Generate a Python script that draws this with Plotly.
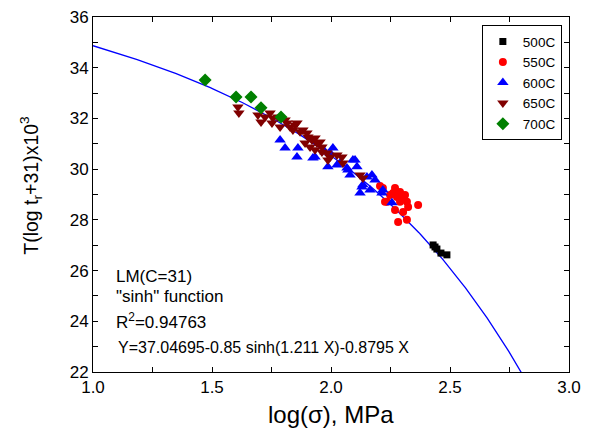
import numpy as np
import plotly.graph_objects as go

# --- data ---
x500 = [2.429, 2.437, 2.445, 2.462, 2.487]
y500 = [27.01, 26.93, 26.85, 26.69, 26.62]

x550 = [2.218, 2.261, 2.227, 2.277, 2.290, 2.319, 2.324, 2.269, 2.303, 2.366,
        2.282, 2.319, 2.290, 2.248, 2.235, 2.269, 2.206, 2.298, 2.311]
y550 = [29.26, 29.06, 28.71, 28.90, 28.71, 28.71, 28.51, 28.39, 28.31, 28.59,
        27.92, 28.00, 29.10, 28.98, 28.71, 29.26, 29.34, 28.86, 28.98]

x600 = [1.786, 1.807, 1.861, 1.857, 1.933, 1.975, 2.008, 1.987, 2.025, 2.067,
        2.092, 2.109, 2.080, 2.134, 2.172, 2.122, 2.164, 2.214, 1.924, 1.996,
        2.038, 2.071, 2.101, 2.185, 2.256, 2.218, 2.130, 2.151]
y600 = [31.15, 30.83, 30.83, 30.48, 30.48, 30.68, 30.83, 30.09, 30.16, 30.05,
        30.36, 30.09, 29.77, 29.38, 29.77, 29.06, 29.18, 29.06, 30.44, 30.64,
        30.24, 29.97, 30.36, 29.57, 28.67, 29.18, 29.30, 29.69]

x650 = [1.609, 1.613, 1.693, 1.706, 1.744, 1.756, 1.777, 1.752, 1.786, 1.815,
        1.828, 1.840, 1.857, 1.870, 1.882, 1.899, 1.903, 1.920, 1.933, 1.941,
        1.954, 1.962, 1.891, 1.912, 1.933, 1.962, 1.983, 1.996, 2.025, 2.046,
        2.050, 1.987, 2.122, 2.134, 1.807, 1.723, 1.849]
y650 = [32.45, 32.21, 32.14, 31.86, 32.21, 32.02, 32.06, 31.82, 31.66, 31.82,
        31.66, 31.54, 31.82, 31.47, 31.54, 31.43, 31.27, 31.15, 31.23, 31.03,
        31.07, 30.87, 31.03, 30.87, 30.76, 30.68, 30.64, 30.48, 30.56, 30.48,
        30.24, 30.36, 29.77, 29.65, 31.94, 32.06, 31.74]

x700 = [1.471, 1.601, 1.664, 1.706, 1.790]
y700 = [33.52, 32.85, 32.85, 32.42, 32.06]

# fit curve coefficients (from the chart's equation)
A0, A1, A2, A3 = 37.04695, 0.85, 1.211, 0.8795
xfit = np.linspace(1.0, 2.82, 300)
yfit = A0 - A1 * np.sinh(A2 * xfit) - A3 * xfit

FONT = "Arial, Liberation Sans, sans-serif"

fig = go.Figure()
fig.add_trace(go.Scatter(x=xfit, y=yfit, mode="lines",
                         line=dict(color="#0000ff", width=1.3),
                         showlegend=False, hoverinfo="skip"))
series = [
    ("500C", x500, y500, "square", "#000000", 7),
    ("550C", x550, y550, "circle", "#ff0000", 8),
    ("600C", x600, y600, "triangle-up", "#0000ff", 10),
    ("650C", x650, y650, "triangle-down", "#800000", 10),
    ("700C", x700, y700, "diamond", "#008000", 10),
]
for name, xs, ys, sym, col, sz in series:
    fig.add_trace(go.Scatter(x=xs, y=ys, mode="markers", name=name,
                             marker=dict(symbol=sym, color=col, size=sz,
                                         line=dict(width=0))))

axis_common = dict(showline=True, linecolor="black", linewidth=1,
                   mirror="allticks", ticks="inside", ticklen=5,
                   tickcolor="black", showgrid=False, zeroline=False,
                   automargin=False, ticklabeloverflow="allow",
                   tickfont=dict(family=FONT, size=17, color="black"))

fig.update_xaxes(range=[1.0, 3.0], dtick=0.5, tickformat=".1f",
                 minor=dict(ticks="inside", dtick=0.25, ticklen=5, tickcolor="black"),
                 **axis_common)
fig.update_yaxes(range=[22, 36], dtick=2,
                 minor=dict(ticks="inside", dtick=1, ticklen=5, tickcolor="black"),
                 **axis_common)

# axis titles
fig.add_annotation(x=0.5, y=-0.121, xref="paper", yref="paper",
                   text="log(σ), MPa", showarrow=False,
                   xanchor="center", yanchor="middle",
                   font=dict(family=FONT, size=24, color="black"))
fig.add_annotation(x=-0.130, y=0.525, xref="paper", yref="paper",
                   text="T(log t<sub>r</sub>+31)x10<sup>3</sup>", showarrow=False,
                   textangle=-90, xanchor="center", yanchor="middle",
                   font=dict(family=FONT, size=19.5, color="black"))

ann_font = dict(family=FONT, size=17, color="black")
fig.add_annotation(x=1.088, y=25.75, xref="x", yref="y", text="LM(C=31)",
                   showarrow=False, xanchor="left", yanchor="middle", font=ann_font)
fig.add_annotation(x=1.088, y=24.98, xref="x", yref="y", text="\"sinh\" function",
                   showarrow=False, xanchor="left", yanchor="middle", font=ann_font)
fig.add_annotation(x=1.088, y=24.02, xref="x", yref="y", text="R<sup>2</sup>=0.94763",
                   showarrow=False, xanchor="left", yanchor="middle", font=ann_font)
fig.add_annotation(x=1.096, y=22.95, xref="x", yref="y",
                   text="Y=37.04695-0.85 sinh(1.211 X)-0.8795 X",
                   showarrow=False, xanchor="left", yanchor="middle",
                   font=dict(family=FONT, size=16, color="black"))

# page body has an 8px margin: size the figure so it sits where the reference does
fig.update_layout(
    width=573, height=421,
    margin=dict(l=85, r=12, t=9, b=57),
    paper_bgcolor="white", plot_bgcolor="white",
    legend=dict(x=0.985, y=0.977, xanchor="right", yanchor="top",
                bgcolor="white", bordercolor="black", borderwidth=1,
                font=dict(family=FONT, size=13.5, color="black"),
                itemsizing="trace", tracegroupgap=0),
)

fig.write_html("out.html")
